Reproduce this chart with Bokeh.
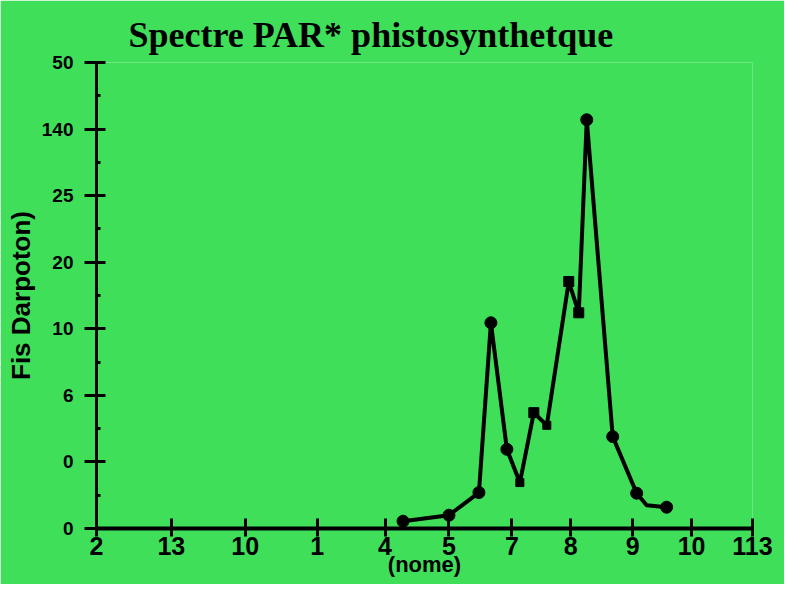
from bokeh.plotting import figure
from bokeh.models import FixedTicker, Range1d, Title
from bokeh.embed import file_html
from bokeh.resources import INLINE

# ---- data ----
# x positions in axis units (tick "2" = 0 ... tick "113" = 657)
x_tick_pos = [0, 75, 149, 221, 289, 353, 416, 475, 537, 596, 657]
x_tick_labels = ["2", "13", "10", "1", "4", "5", "7", "8", "9", "10", "113"]
# y ticks: one unit per labelled tick
y_tick_pos = [0, 1, 2, 3, 4, 5, 6, 7]
y_tick_labels = ["0", "0", "6", "10", "20", "25", "140", "50"]

line_x = [307, 353, 383, 395, 411, 424, 438, 451, 473, 483, 491, 517, 541, 551, 571]
line_y = [0.11, 0.20, 0.54, 3.09, 1.19, 0.69, 1.74, 1.55, 3.71, 3.24, 6.14, 1.38, 0.53, 0.35, 0.32]

circle_x = [307, 353, 383, 395, 411, 491, 517, 541, 571]
circle_y = [0.11, 0.20, 0.54, 3.09, 1.19, 6.14, 1.38, 0.53, 0.32]
square_x = [438, 473, 483]
square_y = [1.74, 3.71, 3.24]
small_square_x = [424, 451]
small_square_y = [0.69, 1.55]

title_text = "Spectre PAR* phistosynthetque"
x_label = "(nome)"
y_label = "Fis Darpoton)"

BG = "#3fdf5a"
SANS = "Liberation Sans"

p = figure(width=784, height=584, output_backend="svg", toolbar_location=None,
           x_range=Range1d(0, 657), y_range=Range1d(0, 7),
           min_border_left=96, min_border_right=32, min_border_top=62,
           min_border_bottom=56)
p.background_fill_color = BG
p.border_fill_color = BG
p.outline_line_color = None
p.grid.visible = False

p.add_layout(Title(text=title_text, text_font="Liberation Serif",
                   text_font_style="bold", text_font_size="36px",
                   text_color="black", align="left", offset=32, standoff=12,
                   vertical_align="top"), "above")

# x axis
xa = p.xaxis[0]
xa.ticker = FixedTicker(ticks=x_tick_pos, minor_ticks=[])
xa.major_label_overrides = {float(t): l for t, l in zip(x_tick_pos, x_tick_labels)}
xa.axis_line_width = 4
xa.axis_line_color = "black"
xa.major_tick_line_width = 3
xa.major_tick_line_color = "black"
xa.major_tick_in = 10
xa.major_tick_out = 8
xa.minor_tick_line_color = None
xa.major_label_standoff = 0
xa.major_label_text_font = SANS
xa.major_label_text_font_style = "bold"
xa.major_label_text_font_size = "25px"
xa.major_label_text_color = "black"
xa.axis_label = x_label
xa.axis_label_text_font = SANS
xa.axis_label_text_font_style = "bold"
xa.axis_label_text_font_size = "22px"
xa.axis_label_text_color = "black"
xa.axis_label_standoff = -6

# y axis
ya = p.yaxis[0]
ya.ticker = FixedTicker(ticks=y_tick_pos, minor_ticks=[t + 0.5 for t in y_tick_pos[:-1]])
ya.major_label_overrides = {float(t): l for t, l in zip(y_tick_pos, y_tick_labels)}
ya.axis_line_width = 3
ya.axis_line_color = "black"
ya.major_tick_line_width = 3
ya.major_tick_line_color = "black"
ya.major_tick_in = 9
ya.major_tick_out = 12
ya.minor_tick_line_width = 3
ya.minor_tick_line_color = "black"
ya.minor_tick_in = 4
ya.minor_tick_out = 0
ya.major_label_standoff = 11
ya.major_label_text_font = SANS
ya.major_label_text_font_style = "bold"
ya.major_label_text_font_size = "19px"
ya.major_label_text_color = "black"
ya.axis_label = y_label
ya.axis_label_text_font = SANS
ya.axis_label_text_font_style = "bold"
ya.axis_label_text_font_size = "26px"
ya.axis_label_text_color = "black"
ya.axis_label_standoff = 3

p.line(line_x, line_y, line_width=4, line_color="black", line_join="round")
p.scatter(circle_x, circle_y, marker="circle", size=12, color="black")
p.scatter(square_x, square_y, marker="square", size=10, color="black")
p.scatter(small_square_x, small_square_y, marker="square", size=8, color="black")

open("out.html", "w").write(file_html(p, INLINE))
